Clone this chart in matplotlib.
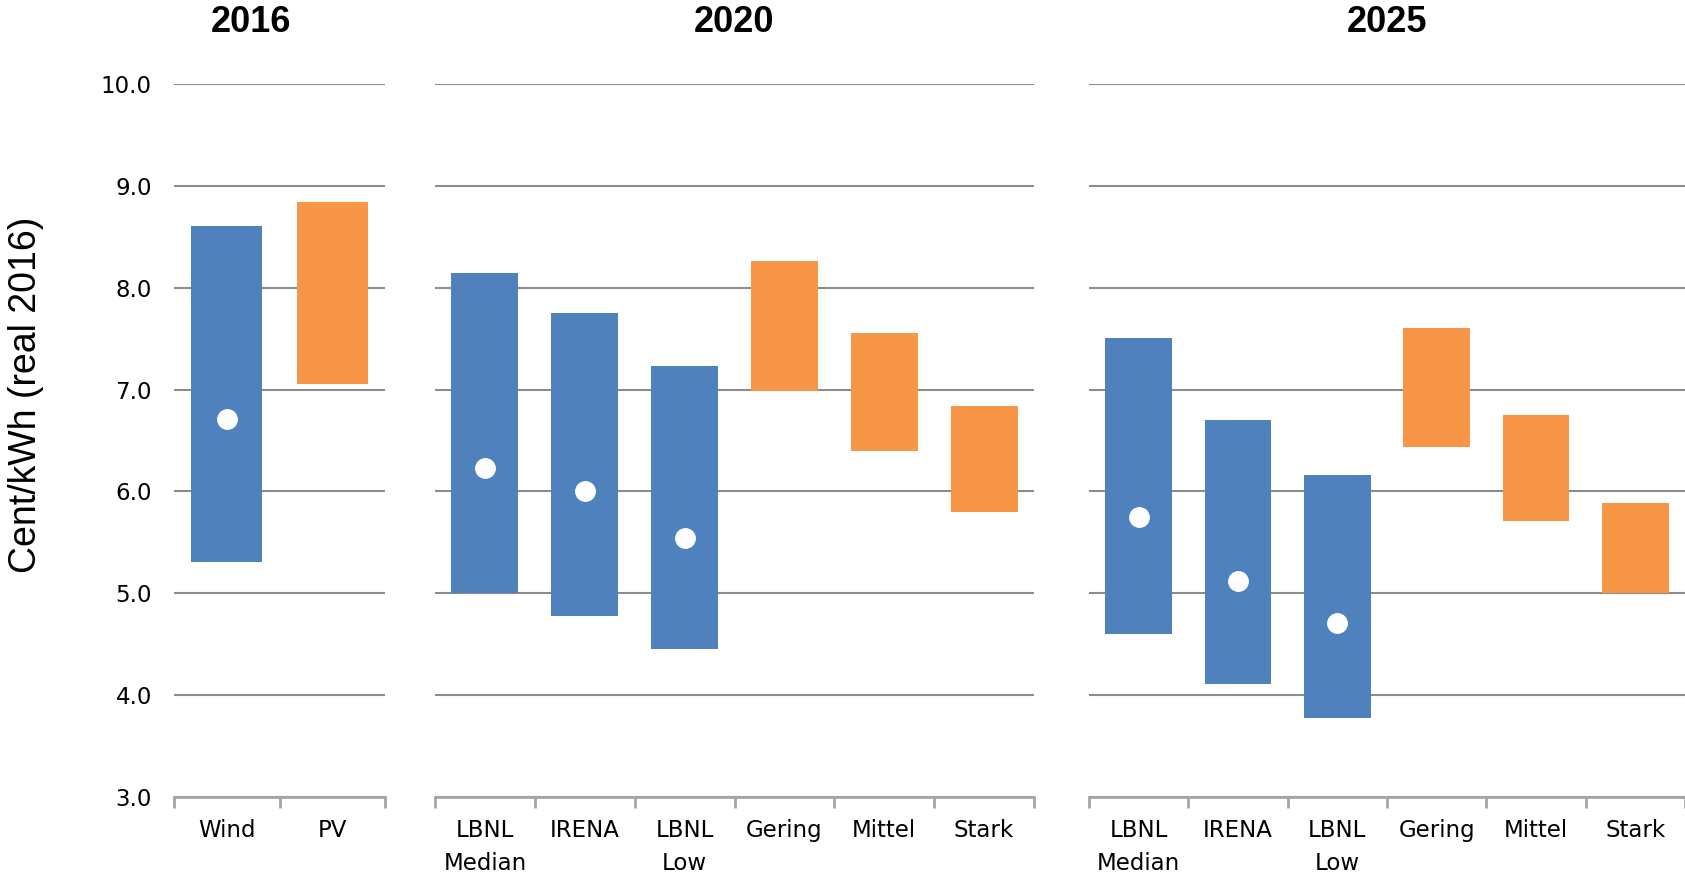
import numpy as np
import matplotlib.pyplot as plt

# Cent/kWh (real 2016) ranges
years = ['2016', '2020', '2025']
cats_2016 = ['Wind', 'PV']
cats_later = ['LBNL\nMedian', 'IRENA', 'LBNL\nLow', 'Gering', 'Mittel', 'Stark']
kind_2016 = ['wind', 'pv']
kind_later = ['wind', 'wind', 'wind', 'pv', 'pv', 'pv']

low_2016 = [5.31, 7.05]
high_2016 = [8.61, 8.84]
mid_2016 = [6.71, np.nan]

low_2020 = [5.00, 4.78, 4.45, 6.99, 6.40, 5.80]
high_2020 = [8.14, 7.75, 7.23, 8.26, 7.56, 6.84]
mid_2020 = [6.23, 6.00, 5.54, np.nan, np.nan, np.nan]

low_2025 = [4.60, 4.11, 3.78, 6.44, 5.71, 5.00]
high_2025 = [7.51, 6.70, 6.16, 7.60, 6.75, 5.89]
mid_2025 = [5.75, 5.12, 4.71, np.nan, np.nan, np.nan]

colors = {'wind': '#4F81BD', 'pv': '#F79646'}
grid_col = '#8C8C8C'

fig = plt.figure(figsize=(16.85, 8.75), dpi=100)

# panel boxes in figure fractions (left, width)
boxes = [(174 / 1685, 211 / 1685), (435 / 1685, 599 / 1685), (1089 / 1685, 596 / 1685)]
bottom, height = 1 - 797 / 875, 713 / 875

panels = [
    (cats_2016, kind_2016, low_2016, high_2016, mid_2016),
    (cats_later, kind_later, low_2020, high_2020, mid_2020),
    (cats_later, kind_later, low_2025, high_2025, mid_2025),
]

for i, ((left, width), (cats, kinds, lo, hi, mid)) in enumerate(zip(boxes, panels)):
    ax = fig.add_axes([left, bottom, width, height])
    x = np.arange(len(cats))
    lo = np.array(lo)
    hi = np.array(hi)
    ax.bar(x, hi - lo, bottom=lo, width=0.67,
           color=[colors[k] for k in kinds], zorder=3)
    ax.plot(x, mid, 'o', color='white', markersize=14, zorder=4)

    ax.set_ylim(3, 10)
    ax.set_xlim(-0.5, len(cats) - 0.5)
    ax.set_yticks(np.arange(3, 10.5, 1.0))
    ax.yaxis.grid(True, color=grid_col, linewidth=1.5, zorder=0)
    ax.set_axisbelow(True)
    for s in ['left', 'right', 'top']:
        ax.spines[s].set_visible(False)
    ax.spines['bottom'].set_color('#A6A6A6')
    ax.spines['bottom'].set_linewidth(2)

    if i == 0:
        ax.set_yticklabels(['%.1f' % v for v in np.arange(3, 10.5, 1.0)])
        ax.tick_params(axis='y', length=0, pad=16, labelsize=16.5)
    else:
        ax.tick_params(axis='y', length=0, labelleft=False)

    ax.set_xticks(x)
    ax.set_xticklabels(cats, fontsize=16.5, linespacing=1.55, va='top')
    ax.set_xticks(np.arange(len(cats) + 1) - 0.5, minor=True)
    ax.tick_params(axis='x', which='major', length=0, pad=16)
    ax.tick_params(axis='x', which='minor', length=8, width=2, color='#A6A6A6')

# year titles
title_x = [251 / 1685, 734 / 1685, 1387 / 1685]
for yr, tx in zip(years, title_x):
    fig.text(tx, 1 - 23 / 875, yr, ha='center', va='center',
             fontsize=26, fontweight='bold', family=['Liberation Sans', 'DejaVu Sans'])

fig.text(26 / 1685, 1 - 395 / 875, 'Cent/kWh (real 2016)', rotation=90,
         ha='center', va='center', fontsize=27,
         family=['Liberation Sans Narrow', 'Liberation Sans', 'DejaVu Sans'])

fig.savefig('out.png', dpi=100)
